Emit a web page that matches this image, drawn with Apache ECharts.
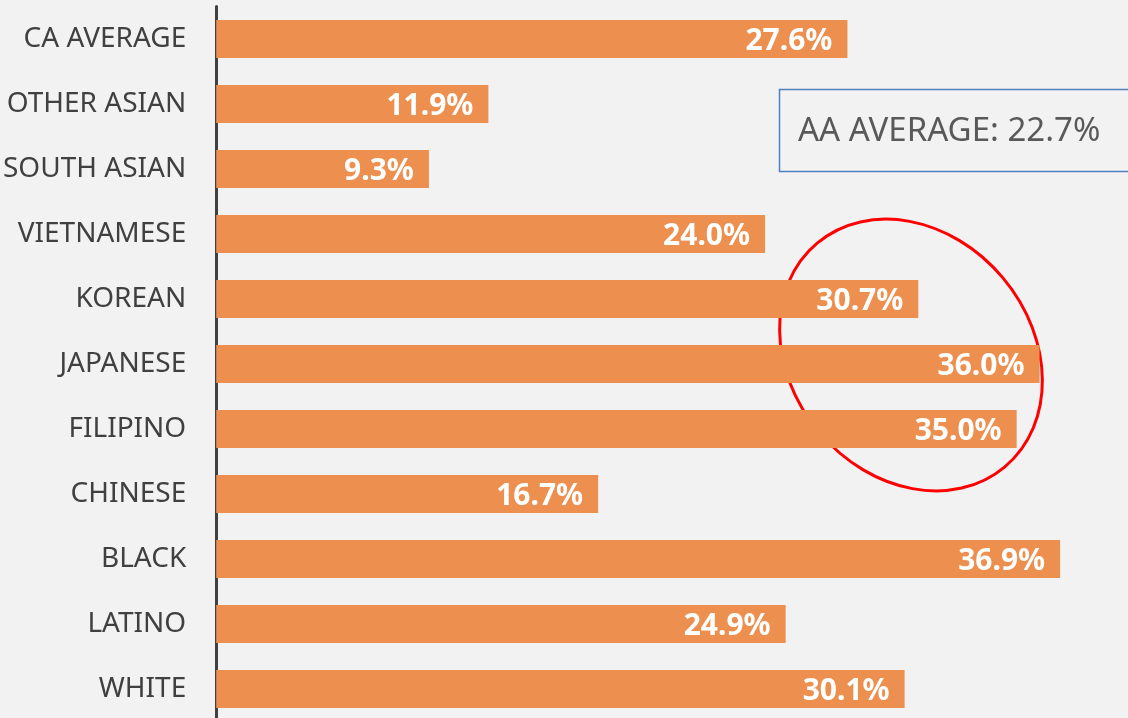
<!DOCTYPE html>
<html>
<head>
<meta charset="utf-8">
<script src="https://cdn.jsdelivr.net/npm/echarts@6/dist/echarts.min.js"></script>
<style>
html, body { margin: 0; padding: 0; background: #f2f2f2; overflow: hidden; }
#main { width: 1140px; height: 730px; }
</style>
</head>
<body>
<div id="main"></div>
<script>
var groups = ['CA AVERAGE', 'OTHER ASIAN', 'SOUTH ASIAN', 'VIETNAMESE', 'KOREAN', 'JAPANESE',
    'FILIPINO', 'CHINESE', 'BLACK', 'LATINO', 'WHITE'];
var rates = [27.6, 11.9, 9.3, 24.0, 30.7, 36.0, 35.0, 16.7, 36.9, 24.9, 30.1];
var aaAverage = 22.7;

var font = 'Noto Sans';
var chart = echarts.init(document.getElementById('main'));
var option = {
    backgroundColor: '#f2f2f2',
    animation: false,
    grid: {
        left: 216,
        width: 915,
        top: 6.5,
        height: 715
    },
    xAxis: {
        type: 'value',
        min: 0,
        max: 40,
        show: false
    },
    yAxis: {
        type: 'category',
        data: groups,
        inverse: true,
        axisLine: { show: true, lineStyle: { color: '#404040', width: 3 } },
        axisTick: { show: false },
        axisLabel: {
            margin: 30,
            color: '#404040',
            fontFamily: font,
            fontSize: 28,
            padding: [5, 0, 0, 0]
        }
    },
    series: [{
        type: 'bar',
        data: rates,
        barWidth: 38,
        itemStyle: { color: '#ed8f4e' },
        label: {
            show: true,
            position: 'insideRight',
            distance: 15,
            offset: [0, 2],
            color: '#ffffff',
            fontFamily: font,
            fontWeight: 'bold',
            fontSize: 30,
            formatter: function (p) { return p.value.toFixed(1) + '%'; }
        }
    }],
    graphic: [{
        type: 'rect',
        shape: { x: 779.5, y: 89.5, width: 360, height: 82 },
        style: { fill: 'transparent', stroke: '#4f81bd', lineWidth: 1.5 }
    }, {
        type: 'text',
        x: 798,
        y: 132,
        style: {
            text: 'AA AVERAGE: ' + aaAverage.toFixed(1) + '%',
            fill: '#595959',
            font: '33px "Noto Sans"',
            verticalAlign: 'middle'
        }
    }, {
        type: 'ellipse',
        x: 911,
        y: 355,
        rotation: -50 * Math.PI / 180,
        shape: { cx: 0, cy: 0, rx: 146, ry: 120 },
        style: { fill: 'transparent', stroke: '#ff0000', lineWidth: 3 }
    }]
};
chart.setOption(option);
</script>
</body>
</html>
